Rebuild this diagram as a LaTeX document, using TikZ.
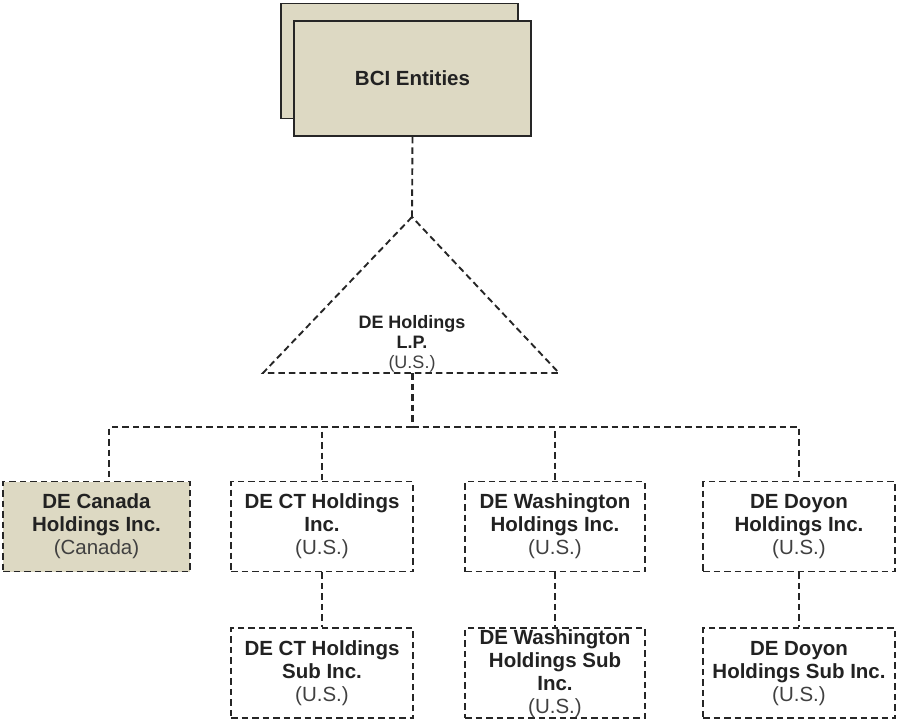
\documentclass[tikz,border=0pt]{standalone}
\usepackage{fontspec}
\setmainfont{Liberation Sans}
\usetikzlibrary{positioning}
\usetikzlibrary{calc}

\definecolor{tan}{RGB}{221,217,195}
\definecolor{linegray}{RGB}{38,38,38}
\definecolor{namegray}{RGB}{34,34,34}
\definecolor{placegray}{RGB}{64,64,64}
\newcommand{\homeland}[1]{{\mdseries\color{placegray}#1}}

\tikzset{
    entity/.style={draw=linegray, line width=1.9pt, fill=tan, minimum width=237pt, minimum height=115pt, inner sep=0pt},
    company/.style={draw=linegray, line width=1.9pt, dash pattern=on 6.5pt off 4pt, minimum height=90pt, inner sep=0pt, align=center, font=\fontsize{20.5}{23}\selectfont\bfseries, text=namegray},
    link/.style={draw=linegray, line width=1.9pt, dash pattern=on 6.5pt off 4pt}
}

\begin{document}
\begin{tikzpicture} [x=1pt, y=-1pt]
    \useasboundingbox (0,0) rectangle (897,719);

    % BCI at the top, two stacked boxes
    \node (BCIback) [entity] at (399.5, 61) {};
    \node (BCI) [entity, font=\fontsize{20.5}{23}\selectfont\bfseries, text=namegray] at (412.5, 78.5) {BCI Entities};

    % DE Holdings L.P. as a triangle
    \coordinate (LPtop) at (412, 217);
    \coordinate (LPleft) at (263, 373);
    \coordinate (LPright) at (559, 373);
    \coordinate (LPbase) at (412, 373);
    \draw[link] (LPtop) -- (LPleft) -- (LPright) -- cycle;
    \node (LP) [align=center, font=\fontsize{18}{20}\selectfont\bfseries, text=namegray] at (412, 344) {DE Holdings\\L.P.\\\homeland{(U.S.)}};

    % first row of companies
    \node (Canada) [company, fill=tan, minimum width=187pt] at (96.5, 526.5) {DE Canada\\Holdings Inc.\\\homeland{(Canada)}};
    \node (CT) [company, minimum width=182pt] at (322, 526.5) {DE CT Holdings\\Inc.\\\homeland{(U.S.)}};
    \node (Wash) [company, minimum width=180pt] at (555, 526.5) {DE Washington\\Holdings Inc.\\\homeland{(U.S.)}};
    \node (Doyon) [company, minimum width=192pt] at (799, 526.5) {DE Doyon\\Holdings Inc.\\\homeland{(U.S.)}};

    % sub companies
    \node (CTsub) [company, minimum width=182pt, below=55pt of CT] {DE CT Holdings\\Sub Inc.\\\homeland{(U.S.)}};
    \node (Washsub) [company, minimum width=180pt, below=55pt of Wash] {DE Washington\\Holdings Sub\\Inc.\\\homeland{(U.S.)}};
    \node (Doyonsub) [company, minimum width=192pt, below=55pt of Doyon] {DE Doyon\\Holdings Sub Inc.\\\homeland{(U.S.)}};

    % connectors
    \coordinate (bus) at (412, 427);
    \draw[link] (BCI.south) -- (LPtop);
    \draw[link, line width=3pt] (LPbase) -- (bus);
    \draw[link] (bus) -| ([xshift=12.5pt]Canada.north);
    \draw[link] (bus) -| (CT.north);
    \draw[link] (bus) -| (Wash.north);
    \draw[link] (bus) -| (Doyon.north);
    \draw[link] (CT.south) -- (CTsub.north);
    \draw[link] (Wash.south) -- (Washsub.north);
    \draw[link] (Doyon.south) -- (Doyonsub.north);

\end{tikzpicture}
\end{document}
